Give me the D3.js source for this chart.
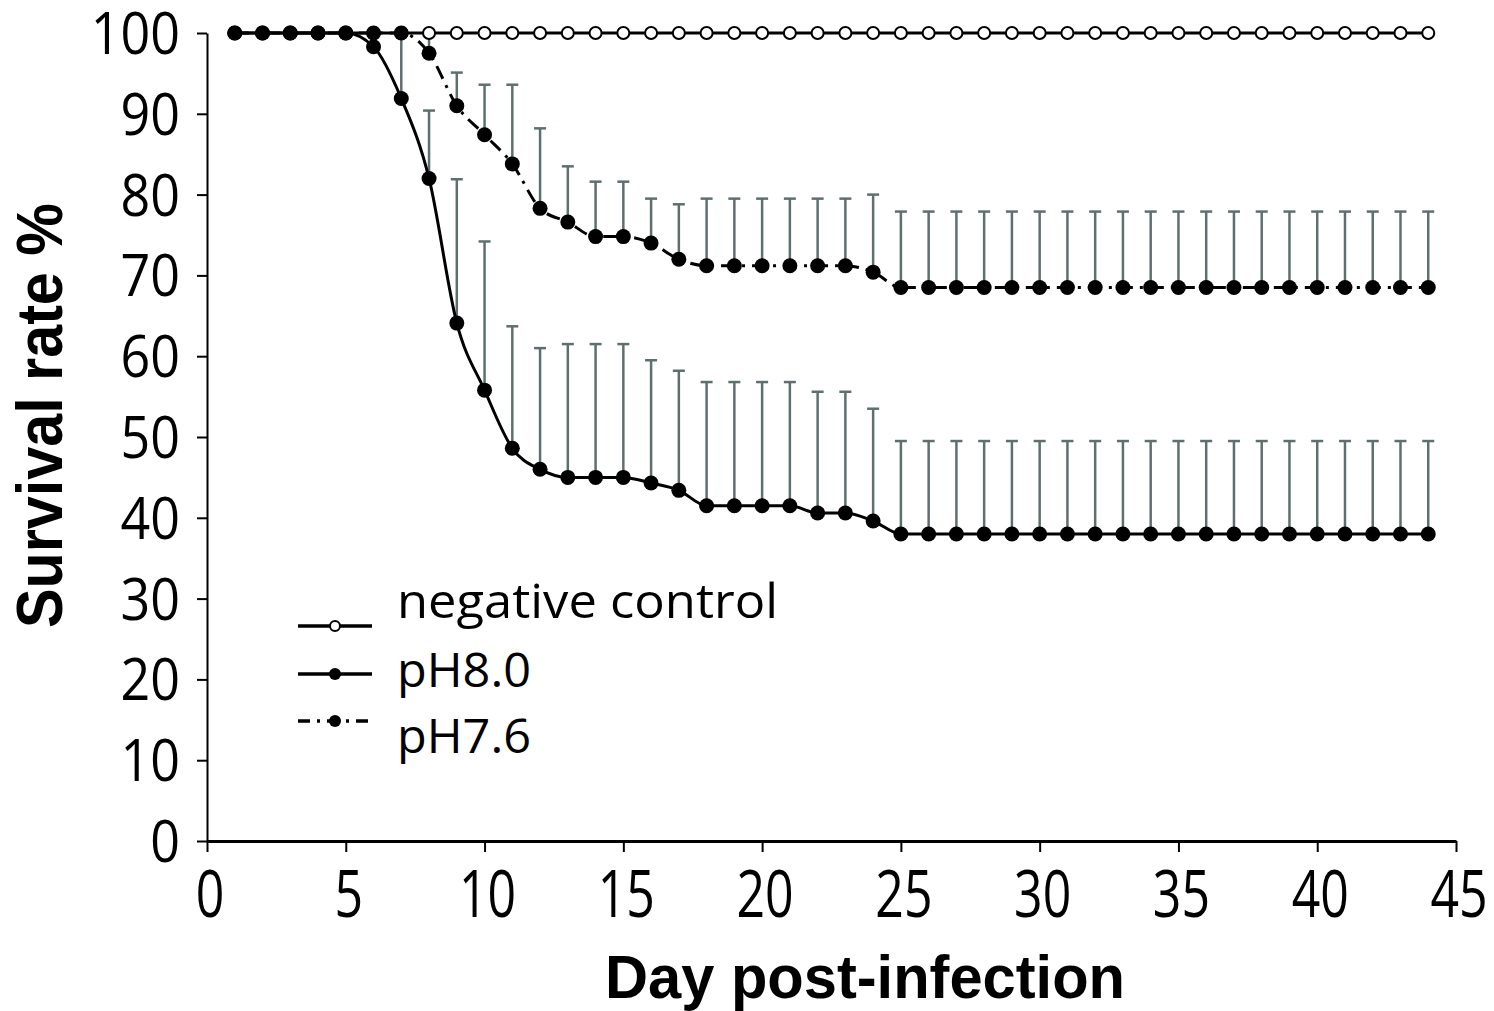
<!DOCTYPE html>
<html lang="en">
  <head>
    <meta charset="utf-8">
    <title>Survival rate</title>
    <script type="text/javascript" src="https://cdn.jsdelivr.net/npm/d3@7"></script>
    <style>
      body { margin: 0; background: #fff; }
      svg { display: block; }
    </style>
  </head>
  <body>
    <script type="text/javascript">
    // values (survival %, per day post-infection)
    var days = [1, 2, 3, 4, 5, 6, 7, 8, 9, 10, 11, 12, 13, 14, 15, 16, 17, 18, 19, 20, 21, 22,
                23, 24, 25, 26, 27, 28, 29, 30, 31, 32, 33, 34, 35, 36, 37, 38, 39, 40, 41, 42, 43, 44];

    var negControl = [100, 100, 100, 100, 100, 100, 100, 100, 100, 100, 100, 100, 100, 100, 100,
                      100, 100, 100, 100, 100, 100, 100, 100, 100, 100, 100, 100, 100, 100, 100,
                      100, 100, 100, 100, 100, 100, 100, 100, 100, 100, 100, 100, 100, 100];

    var ph80 = [100, 100, 100, 100, 100, 98.3, 91.9, 82.0, 64.1, 55.8, 48.6, 46.0, 45.0, 45.0, 45.0,
                44.3, 43.4, 41.5, 41.5, 41.5, 41.5, 40.6, 40.6, 39.6,
                38.0, 38.0, 38.0, 38.0, 38.0, 38.0, 38.0, 38.0, 38.0, 38.0,
                38.0, 38.0, 38.0, 38.0, 38.0, 38.0, 38.0, 38.0, 38.0, 38.0];

    // top of the error bar (mean + SD), null where none is drawn
    var ph80Upper = [null, null, null, null, null, null, 100, 90.4, 81.9, 74.2, 63.7, 61.0, 61.5, 61.5, 61.5,
                     59.5, 58.2, 56.8, 56.8, 56.8, 56.8, 55.6, 55.6, 53.5,
                     49.5, 49.5, 49.5, 49.5, 49.5, 49.5, 49.5, 49.5, 49.5, 49.5,
                     49.5, 49.5, 49.5, 49.5, 49.5, 49.5, 49.5, 49.5, 49.5, 49.5];

    var ph76 = [100, 100, 100, 100, 100, 100, 100, 97.5, 91.0, 87.4, 83.8, 78.3, 76.6, 74.8, 74.8,
                74.0, 72.0, 71.2, 71.2, 71.2, 71.2, 71.2, 71.2, 70.4,
                68.5, 68.5, 68.5, 68.5, 68.5, 68.5, 68.5, 68.5, 68.5, 68.5,
                68.5, 68.5, 68.5, 68.5, 68.5, 68.5, 68.5, 68.5, 68.5, 68.5];

    var ph76Upper = [null, null, null, null, null, null, null, 100, 95.1, 93.6, 93.6, 88.2, 83.5, 81.6, 81.6,
                     79.5, 78.8, 79.5, 79.5, 79.5, 79.5, 79.5, 79.5, 80.0,
                     77.9, 77.9, 77.9, 77.9, 77.9, 77.9, 77.9, 77.9, 77.9, 77.9,
                     77.9, 77.9, 77.9, 77.9, 77.9, 77.9, 77.9, 77.9, 77.9, 77.9];

    var xTicks = [0, 5, 10, 15, 20, 25, 30, 35, 40, 45];
    var yTicks = [0, 10, 20, 30, 40, 50, 60, 70, 80, 90, 100];

    var seriesNames = ["negative control", "pH8.0", "pH7.6"];

    var w = 1494;
    var h = 1011;

    var svg = d3.select("body")
                .append("svg")
                .attr("width", w)
                .attr("height", h);

    var x = d3.scaleLinear().domain([0, 45]).range([207, 1456]);
    var y = d3.scaleLinear().domain([0, 100]).range([841, 33]);

    var tickFont = "'Open Sans', 'Noto Sans', sans-serif";
    var titleFont = "'Liberation Sans', Arial, sans-serif";

    // axes
    var xAxis = svg.append("g")
      .attr("transform", "translate(0," + y(0) + ")")
      .call(d3.axisBottom(x).tickValues(xTicks).tickSize(11).tickSizeOuter(0).tickFormat(""));
    xAxis.select(".domain").attr("stroke-width", 3);
    xAxis.selectAll(".tick line").attr("stroke-width", 2);

    var yAxis = svg.append("g")
      .attr("transform", "translate(" + x(0) + ",0)")
      .call(d3.axisLeft(y).tickValues(yTicks).tickSize(10).tickSizeOuter(0).tickFormat(""));
    yAxis.select(".domain").attr("stroke-width", 2);
    yAxis.selectAll(".tick line").attr("stroke-width", 2);

    // tick labels (the figure's digits are stretched vertically)
    svg.append("g").selectAll("text")
      .data(xTicks)
      .enter()
      .append("text")
      .attr("transform", function(d) { return "translate(" + (x(d) + 3) + ",917) scale(1,1.3)"; })
      .attr("text-anchor", "middle")
      .style("font-family", tickFont)
      .style("font-size", "50px")
      .text(function(d) { return d; });

    svg.append("g").selectAll("text")
      .data(yTicks)
      .enter()
      .append("text")
      .attr("transform", function(d) { return "translate(180," + (y(d) + 21) + ") scale(1,1.13)"; })
      .attr("text-anchor", "end")
      .style("font-family", tickFont)
      .style("font-size", "52px")
      .text(function(d) { return d; });

    // axis titles
    svg.append("text")
      .attr("x", 605)
      .attr("y", 998)
      .attr("textLength", 520)
      .attr("lengthAdjust", "spacingAndGlyphs")
      .style("font-family", titleFont)
      .style("font-weight", "bold")
      .style("font-size", "62px")
      .text("Day post-infection");

    svg.append("text")
      .attr("transform", "translate(62,628) rotate(-90)")
      .attr("textLength", 425)
      .attr("lengthAdjust", "spacingAndGlyphs")
      .style("font-family", titleFont)
      .style("font-weight", "bold")
      .style("font-size", "64px")
      .text("Survival rate %");

    // error bars
    var errColour = "#5f6f6f";
    var drawErrors = function(vals, uppers) {
      var pts = days.map(function(d, i) { return {day: d, v: vals[i], up: uppers[i]}; })
                    .filter(function(p) { return p.up !== null; });
      var g = svg.append("g").attr("stroke", errColour).attr("stroke-width", 2.5);
      g.selectAll("line.bar").data(pts).enter().append("line")
        .attr("class", "bar")
        .attr("x1", function(p) { return x(p.day); })
        .attr("x2", function(p) { return x(p.day); })
        .attr("y1", function(p) { return y(p.v); })
        .attr("y2", function(p) { return y(p.up); });
      g.selectAll("line.cap").data(pts).enter().append("line")
        .attr("class", "cap")
        .attr("x1", function(p) { return x(p.day) - 6; })
        .attr("x2", function(p) { return x(p.day) + 6; })
        .attr("y1", function(p) { return y(p.up); })
        .attr("y2", function(p) { return y(p.up); });
    }
    drawErrors(ph80, ph80Upper);
    drawErrors(ph76, ph76Upper);

    // series lines + markers
    var drawSeries = function(vals, curve, dash, filled, r) {
      var pts = days.map(function(d, i) { return {day: d, v: vals[i]}; });
      var line = d3.line()
        .x(function(p) { return x(p.day); })
        .y(function(p) { return y(p.v); })
        .curve(curve);
      svg.append("path")
        .datum(pts)
        .attr("d", line)
        .attr("fill", "none")
        .attr("stroke", "#000")
        .attr("stroke-width", 3)
        .attr("stroke-dasharray", dash);
      svg.append("g").selectAll("circle")
        .data(pts)
        .enter()
        .append("circle")
        .attr("cx", function(p) { return x(p.day); })
        .attr("cy", function(p) { return y(p.v); })
        .attr("r", r)
        .attr("fill", filled ? "#000" : "#fff")
        .attr("stroke", "#000")
        .attr("stroke-width", filled ? 0 : 2);
    }
    drawSeries(negControl, d3.curveLinear, null, false, 6);
    drawSeries(ph80, d3.curveMonotoneX, null, true, 7.5);
    drawSeries(ph76, d3.curveMonotoneX, "14,7,3,7", true, 7.5);

    // legend
    var legendY = [626, 674, 721];
    var legendTextY = [618, 687, 753];
    var legendDash = [null, null, "12,7,3,7"];
    var legendFill = [false, true, true];
    var legendText = [381, 134, 134];
    var leg = svg.append("g");
    seriesNames.forEach(function(name, i) {
      leg.append("line")
        .attr("x1", 298).attr("x2", 372)
        .attr("y1", legendY[i]).attr("y2", legendY[i])
        .attr("stroke", "#000")
        .attr("stroke-width", 3.5)
        .attr("stroke-dasharray", legendDash[i]);
      leg.append("circle")
        .attr("cx", 335).attr("cy", legendY[i])
        .attr("r", legendFill[i] ? 6 : 5)
        .attr("fill", legendFill[i] ? "#000" : "#fff")
        .attr("stroke", "#000")
        .attr("stroke-width", legendFill[i] ? 0 : 2);
      leg.append("text")
        .attr("transform", "translate(397," + legendTextY[i] + ") scale(1,1.12)")
        .attr("textLength", legendText[i])
        .attr("lengthAdjust", "spacingAndGlyphs")
        .style("font-family", tickFont)
        .style("font-size", "42px")
        .text(name);
    });
    </script>
  </body>
</html>
